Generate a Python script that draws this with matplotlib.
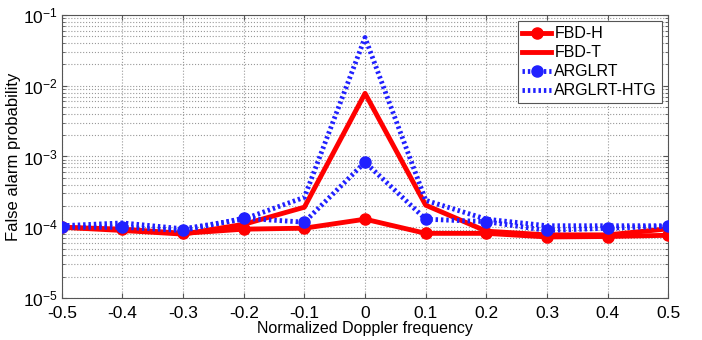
import matplotlib
matplotlib.use('Agg')
import matplotlib.pyplot as plt
import numpy as np

# Data
freq = [-0.5, -0.4, -0.3, -0.2, -0.1, 0.0, 0.1, 0.2, 0.3, 0.4, 0.5]
fbd_h = [1.0e-4, 0.94e-4, 0.82e-4, 0.94e-4, 0.97e-4, 1.3e-4, 0.82e-4, 0.82e-4, 0.73e-4, 0.74e-4, 0.77e-4]
fbd_t = [1.0e-4, 0.9e-4, 0.8e-4, 1.1e-4, 1.92e-4, 7.8e-3, 2.05e-4, 0.88e-4, 0.78e-4, 0.78e-4, 0.95e-4]
arglrt = [1.0e-4, 1.0e-4, 0.9e-4, 1.34e-4, 1.18e-4, 8.3e-4, 1.3e-4, 1.2e-4, 0.9e-4, 0.97e-4, 1.03e-4]
arglrt_htg = [1.05e-4, 1.15e-4, 0.95e-4, 1.3e-4, 2.65e-4, 4.8e-2, 2.4e-4, 1.3e-4, 1.05e-4, 1.05e-4, 1.05e-4]
xlabels = ['-0.5', '-0.4', '-0.3', '-0.2', '-0.1', '0', '0.1', '0.2', '0.3', '0.4', '0.5']

plt.rcParams['font.family'] = ['Liberation Sans', 'DejaVu Sans']

fig = plt.figure(figsize=(7.02, 3.40), dpi=100)
ax = fig.add_axes([0.088, 0.1235, 0.864, 0.8325])

red = '#ff0000'
blue = '#2020ff'
dots = (0, (0.5, 0.6))

ax.plot(freq, fbd_h, color=red, lw=3.5, marker='o', markersize=8, label='FBD-H', zorder=3)
ax.plot(freq, fbd_t, color=red, lw=3.5, label='FBD-T', zorder=3)
ax.plot(freq, arglrt, color=blue, lw=3.5, linestyle=dots, marker='o', markersize=8, label='ARGLRT', zorder=4)
ax.plot(freq, arglrt_htg, color=blue, lw=3.5, linestyle=dots, label='ARGLRT-HTG', zorder=4)

ax.set_yscale('log')
ax.set_ylim(1e-5, 1e-1)
ax.set_xlim(-0.5, 0.5)
ax.set_xticks(freq)
ax.set_xticklabels(xlabels)

ax.grid(True, which='major', linestyle=':', color='#999999', lw=0.8)
ax.grid(True, which='minor', axis='y', linestyle=':', color='#999999', lw=0.8)
ax.tick_params(which='both', direction='in', top=True, right=True, labelsize=12.5, color='#555555')
ax.tick_params(axis='x', pad=6)
ax.tick_params(axis='y', pad=3)
for s in ax.spines.values():
    s.set_color('#555555')

ax.set_xlabel('Normalized Doppler frequency', fontsize=11.5, labelpad=0)
ax.set_ylabel('False alarm probability', fontsize=12, labelpad=1)

leg = ax.legend(loc='upper right', fontsize=11.5, fancybox=False, framealpha=1,
                edgecolor='#555555', handlelength=1.8, handletextpad=0.2,
                borderpad=0.3, labelspacing=0.25, borderaxespad=0.4)
leg.get_frame().set_linewidth(0.8)

fig.savefig('out.png', dpi=100)
